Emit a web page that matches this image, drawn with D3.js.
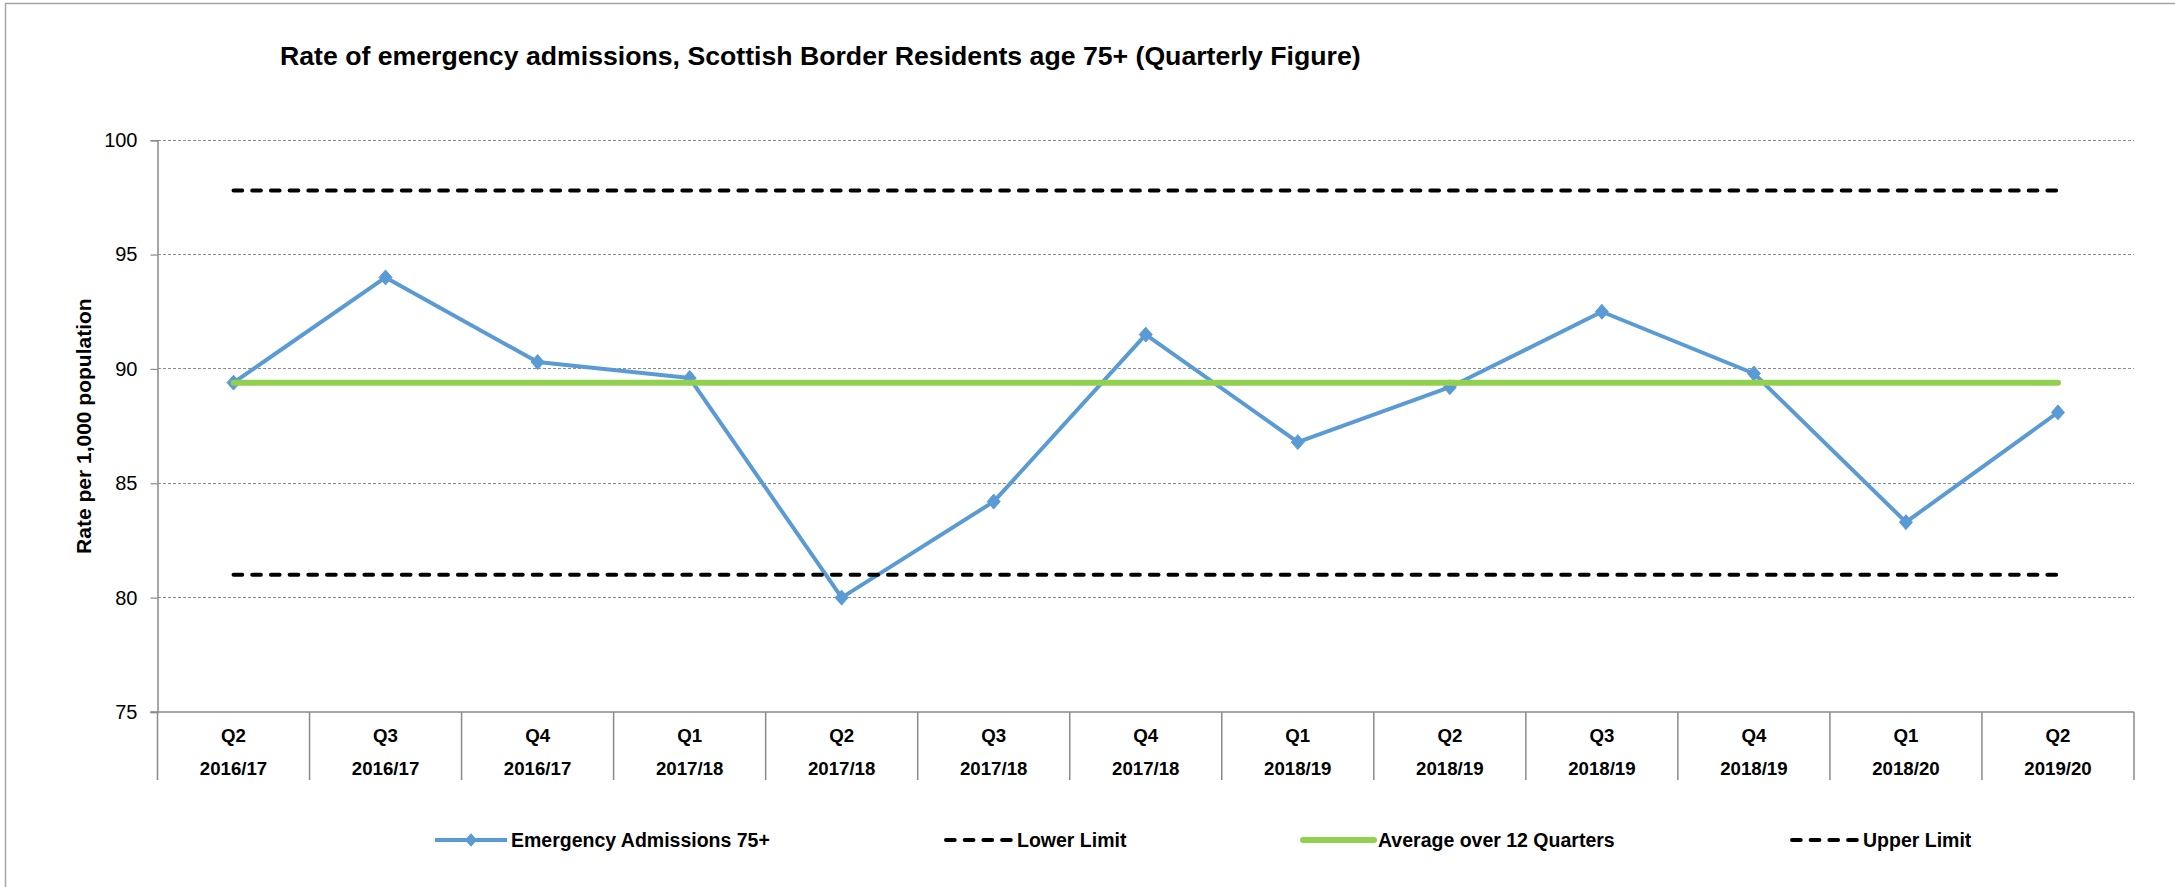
<!DOCTYPE html>
<html>
<head>
<meta charset="utf-8">
<script src="https://cdn.jsdelivr.net/npm/d3@7"></script>
<style>
  html, body { margin: 0; padding: 0; background: #ffffff; }
  svg { display: block; }
  text { font-family: "Liberation Sans", Arial, sans-serif; fill: #000; }
</style>
</head>
<body>
<svg id="chart" width="2175" height="887"></svg>
<script>
// ---- Data ----
const quarters = ["Q2", "Q3", "Q4", "Q1", "Q2", "Q3", "Q4", "Q1", "Q2", "Q3", "Q4", "Q1", "Q2"];
const years = ["2016/17", "2016/17", "2016/17", "2017/18", "2017/18", "2017/18", "2017/18", "2018/19", "2018/19", "2018/19", "2018/19", "2018/20", "2019/20"];
const admissions = [89.4, 94.0, 90.3, 89.6, 80.0, 84.2, 91.5, 86.8, 89.2, 92.5, 89.8, 83.3, 88.1];
const lowerLimit = [81.0, 81.0, 81.0, 81.0, 81.0, 81.0, 81.0, 81.0, 81.0, 81.0, 81.0, 81.0, 81.0];
const average12 = [89.4, 89.4, 89.4, 89.4, 89.4, 89.4, 89.4, 89.4, 89.4, 89.4, 89.4, 89.4, 89.4];
const upperLimit = [97.8, 97.8, 97.8, 97.8, 97.8, 97.8, 97.8, 97.8, 97.8, 97.8, 97.8, 97.8, 97.8];
const yTicks = [75, 80, 85, 90, 95, 100];
const seriesNames = ["Emergency Admissions 75+", "Lower Limit", "Average over 12 Quarters", "Upper Limit"];
const titleText = "Rate of emergency admissions, Scottish Border Residents age 75+ (Quarterly Figure)";
const yLabel = "Rate per 1,000 population";

// ---- Layout ----
const svg = d3.select("#chart");
const plotL = 157.5, plotR = 2134, plotT = 140.2, plotB = 712;
const blue = "#5B9BD5", green = "#92D050", grid = "#8c8c8c", axisCol = "#8a8a8a";

const idx = d3.range(quarters.length);
const x = d3.scaleBand().domain(idx).range([plotL, plotR]);
const cx = i => x(i) + x.bandwidth() / 2;
const y = d3.scaleLinear().domain([75, 100]).range([plotB, plotT]);

// outer border (chart area frame, right/bottom edges are off-canvas)
svg.append("rect")
  .attr("x", 5.5).attr("y", 3.5).attr("width", 2300).attr("height", 1000)
  .attr("fill", "none").attr("stroke", "#a6a6a6").attr("stroke-width", 1.5);

// title
svg.append("text")
  .attr("x", 280).attr("y", 65)
  .attr("font-size", 26.67).attr("font-weight", "bold")
  .text(titleText);

// gridlines
svg.append("g").selectAll("line")
  .data(yTicks.filter(t => t !== 75))
  .join("line")
  .attr("x1", plotL).attr("x2", plotR)
  .attr("y1", d => y(d)).attr("y2", d => y(d))
  .attr("stroke", grid).attr("stroke-width", 1)
  .attr("stroke-dasharray", "3,2")
  .attr("shape-rendering", "crispEdges");

// y axis
const yAxis = svg.append("g")
  .attr("transform", `translate(${plotL},0)`)
  .call(d3.axisLeft(y).tickValues(yTicks).tickSize(7).tickPadding(13).tickFormat(d3.format("d")));
yAxis.select(".domain").attr("stroke", axisCol).attr("stroke-width", 1.5);
yAxis.selectAll(".tick line").attr("stroke", axisCol).attr("stroke-width", 1.2);
yAxis.selectAll(".tick text")
  .attr("font-size", 20).attr("font-family", "Liberation Sans, Arial, sans-serif").attr("fill", "#000");

// y label
svg.append("text")
  .attr("transform", `translate(${91},${(plotT + plotB) / 2}) rotate(-90)`)
  .attr("text-anchor", "middle")
  .attr("font-size", 21).attr("font-weight", "bold")
  .text(yLabel);

// x axis baseline
svg.append("line")
  .attr("x1", plotL - 7).attr("x2", plotR)
  .attr("y1", plotB).attr("y2", plotB)
  .attr("stroke", axisCol).attr("stroke-width", 1.5);

// category separators
const seps = idx.map(i => x(i)).concat([plotR]);
svg.append("g").selectAll("line")
  .data(seps)
  .join("line")
  .attr("x1", d => d).attr("x2", d => d)
  .attr("y1", plotB).attr("y2", 780)
  .attr("stroke", axisCol).attr("stroke-width", 1.5);

// category labels
const catG = svg.append("g");
catG.selectAll("text.q")
  .data(idx).join("text").attr("class", "q")
  .attr("x", i => cx(i)).attr("y", 741.5)
  .attr("text-anchor", "middle").attr("font-size", 18.67).attr("font-weight", "bold")
  .text(i => quarters[i]);
catG.selectAll("text.yr")
  .data(idx).join("text").attr("class", "yr")
  .attr("x", i => cx(i)).attr("y", 775)
  .attr("text-anchor", "middle").attr("font-size", 18.67).attr("font-weight", "bold")
  .text(i => years[i]);

// series
const lineGen = vals => d3.line().x((d, i) => cx(i)).y(d => y(d))(vals);
const diamond = (px, py, r) => `M${px},${py - r * 1.15}L${px + r},${py}L${px},${py + r * 1.15}L${px - r},${py}Z`;

// admissions
svg.append("path")
  .attr("d", lineGen(admissions))
  .attr("fill", "none").attr("stroke", blue).attr("stroke-width", 4)
  .attr("stroke-linejoin", "round");
svg.append("g").selectAll("path")
  .data(admissions).join("path")
  .attr("d", (d, i) => diamond(cx(i), y(d), 6.5))
  .attr("fill", blue).attr("stroke", blue).attr("stroke-width", 1);

// lower limit
svg.append("path")
  .attr("d", lineGen(lowerLimit))
  .attr("fill", "none").attr("stroke", "#000").attr("stroke-width", 4)
  .attr("stroke-dasharray", "8.7,10").attr("stroke-linecap", "round");

// average
svg.append("path")
  .attr("d", lineGen(average12))
  .attr("fill", "none").attr("stroke", green).attr("stroke-width", 6)
  .attr("stroke-linecap", "round");

// upper limit
svg.append("path")
  .attr("d", lineGen(upperLimit))
  .attr("fill", "none").attr("stroke", "#000").attr("stroke-width", 4)
  .attr("stroke-dasharray", "8.7,10").attr("stroke-linecap", "round");

// legend
const legY = 840;
const legendItems = [
  { name: seriesNames[0], x0: 435, x1: 507, type: "blue" },
  { name: seriesNames[1], x0: 946, x1: 1013, type: "dash" },
  { name: seriesNames[2], x0: 1303, x1: 1374, type: "green" },
  { name: seriesNames[3], x0: 1792, x1: 1859, type: "dash" }
];
const lg = svg.append("g");
legendItems.forEach(it => {
  const l = lg.append("line")
    .attr("x1", it.x0).attr("x2", it.x1).attr("y1", legY).attr("y2", legY);
  if (it.type === "blue") {
    l.attr("stroke", blue).attr("stroke-width", 4);
    lg.append("path").attr("d", diamond((it.x0 + it.x1) / 2, legY, 5.5))
      .attr("fill", blue).attr("stroke", blue);
  } else if (it.type === "green") {
    l.attr("stroke", green).attr("stroke-width", 6).attr("stroke-linecap", "round");
  } else {
    l.attr("stroke", "#000").attr("stroke-width", 4)
      .attr("stroke-dasharray", "8.7,10").attr("stroke-linecap", "round");
  }
  lg.append("text")
    .attr("x", it.x1 + 4).attr("y", legY + 7)
    .attr("font-size", 19.5).attr("font-weight", "bold")
    .text(it.name);
});
</script>
</body>
</html>
